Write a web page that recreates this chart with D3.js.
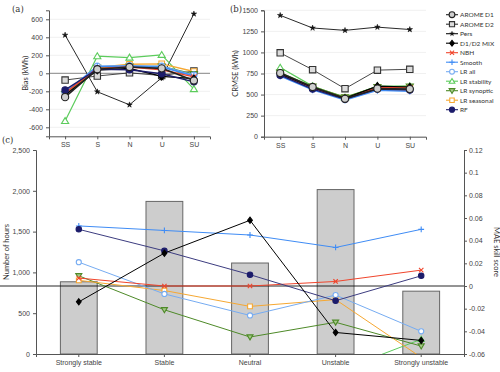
<!DOCTYPE html>
<html>
<head>
<meta charset="utf-8">
<script src="https://cdn.jsdelivr.net/npm/d3@7"></script>
<style>
  body { margin: 0; background: #fff; }
  svg { font-family: Lato, "Open Sans", sans-serif; }
  .axis text { fill: #444; font-size: 7px; }
  .axis path, .axis line { stroke: #555; }
</style>
</head>
<body>
<div id="chart"></div>
<script>
'use strict';

// Data: regimes for (a)/(b), stability classes for (c)
var regimes = ['SS', 'S', 'N', 'U', 'SU']
var stabilityClasses = ['Strongly stable', 'Stable', 'Neutral', 'Unstable', 'Strongly unstable']
var seriesNames = ['AROME D1', 'AROME D2', 'Pers', 'D1/D2 MIX', 'NBH', 'Smooth', 'LR all',
  'LR stability', 'LR synoptic', 'LR seasonal', 'RF']

// (a) bias, kWh
var biasD1 = [-265, 45, 70, 55, -80]
var biasD2 = [-75, -30, 5, -25, 25]
var biasPers = [425, -205, -350, -50, 660]
var biasMix = [-240, 35, 55, -35, -60]
var biasNbh = [-220, 55, 70, 40, -40]
var biasSmooth = [-210, 75, 80, 70, -30]
var biasLrAll = [-220, 80, 85, 80, -20]
var biasLrStab = [-530, 190, 175, 205, -175]
var biasLrSyn = [-230, 60, 75, 75, -10]
var biasLrSeas = [-225, 65, 100, 105, 20]
var biasRf = [-185, 45, 40, -5, -95]

// (b) CRMSE, kWh
var crmseD1 = [755, 590, 450, 570, 565]
var crmseD2 = [995, 795, 570, 790, 800]
var crmsePers = [1440, 1290, 1262, 1300, 1272]
var crmseMix = [745, 585, 455, 600, 590]
var crmseNbh = [740, 580, 450, 585, 580]
var crmseSmooth = [720, 555, 435, 550, 540]
var crmseLrAll = [735, 575, 445, 575, 570]
var crmseLrStab = [820, 600, 462, 600, 600]
var crmseLrSyn = [760, 595, 468, 590, 595]
var crmseLrSeas = [750, 590, 460, 585, 580]
var crmseRf = [730, 565, 445, 565, 555]

// (c) number of hours per class and MAE skill score
var hours = [885, 1870, 1115, 2015, 770]
var skillMix = [-0.014, 0.029, 0.058, -0.041, -0.048]
var skillNbh = [0.007, 0.000, 0.000, 0.004, 0.014]
var skillSmooth = [0.053, 0.049, 0.045, 0.034, 0.050]
var skillLrAll = [0.021, -0.007, -0.026, -0.008, -0.040]
var skillLrStab = [-0.12, -0.10, -0.09, -0.076, -0.047]
var skillLrSyn = [0.009, -0.021, -0.045, -0.032, -0.053]
var skillLrSeas = [0.005, -0.004, -0.018, -0.012, -0.063]
var skillRf = [0.050, 0.031, 0.010, -0.013, 0.009]

var biasTicks = [-600, -400, -200, 0, 200, 400, 600]
var crmseTicks = [0, 250, 500, 750, 1000, 1250, 1500]
var hoursTicks = [0, 500, 1000, 1500, 2000, 2500]
var skillTicks = [-0.06, -0.04, -0.02, 0, 0.02, 0.04, 0.06, 0.08, 0.1, 0.12]

var bias = {
  'AROME D1': biasD1, 'AROME D2': biasD2, 'Pers': biasPers, 'D1/D2 MIX': biasMix,
  'NBH': biasNbh, 'Smooth': biasSmooth, 'LR all': biasLrAll, 'LR stability': biasLrStab,
  'LR synoptic': biasLrSyn, 'LR seasonal': biasLrSeas, 'RF': biasRf
}
var crmse = {
  'AROME D1': crmseD1, 'AROME D2': crmseD2, 'Pers': crmsePers, 'D1/D2 MIX': crmseMix,
  'NBH': crmseNbh, 'Smooth': crmseSmooth, 'LR all': crmseLrAll, 'LR stability': crmseLrStab,
  'LR synoptic': crmseLrSyn, 'LR seasonal': crmseLrSeas, 'RF': crmseRf
}
var skill = {
  'D1/D2 MIX': skillMix, 'NBH': skillNbh, 'Smooth': skillSmooth, 'LR all': skillLrAll,
  'LR stability': skillLrStab, 'LR synoptic': skillLrSyn, 'LR seasonal': skillLrSeas, 'RF': skillRf
}

// Styles
var style = {
  'AROME D1':     {color: '#222', marker: 'circle', fill: '#cfcfcf', size: 3.6, width: 1.6},
  'AROME D2':     {color: '#333', marker: 'square', fill: '#dcdcdc', size: 3.2, width: 0.9},
  'Pers':         {color: '#111', marker: 'star', fill: '#111', size: 2.2, width: 0.9},
  'D1/D2 MIX':    {color: '#000', marker: 'diamond', fill: '#000', size: 2.8, width: 1.2},
  'NBH':          {color: '#f0452c', marker: 'x', fill: 'none', size: 2.6, width: 1.4},
  'Smooth':       {color: '#3f8cf5', marker: 'plus', fill: 'none', size: 3.4, width: 1.4},
  'LR all':       {color: '#76acf2', marker: 'circle', fill: '#fff', size: 3, width: 1.4},
  'LR stability': {color: '#5ccc5c', marker: 'triangle', fill: '#fff', size: 3.4, width: 1.2},
  'LR synoptic':  {color: '#4e8a28', marker: 'triangleDown', fill: '#a6c98a', size: 3.4, width: 1.4},
  'LR seasonal':  {color: '#f6a832', marker: 'square', fill: '#fff', size: 2.8, width: 1.4},
  'RF':           {color: '#1c1c6b', marker: 'circle', fill: '#1c1c6b', size: 3.2, width: 1.4}
}
var drawOrder = ['Pers', 'AROME D2', 'LR stability', 'LR seasonal', 'LR synoptic', 'LR all',
  'Smooth', 'NBH', 'D1/D2 MIX', 'RF', 'AROME D1']

function markerPath(type, s) {
  switch (type) {
    case 'square': return 'M' + (-s) + ',' + (-s) + 'h' + (2 * s) + 'v' + (2 * s) + 'h' + (-2 * s) + 'Z'
    case 'diamond': return 'M0,' + (-s * 1.3) + 'L' + s + ',0L0,' + (s * 1.3) + 'L' + (-s) + ',0Z'
    case 'triangle': return 'M0,' + (-s) + 'L' + (s * 1.05) + ',' + (s * 0.75) + 'L' + (-s * 1.05) + ',' + (s * 0.75) + 'Z'
    case 'triangleDown': return 'M0,' + s + 'L' + (s * 1.05) + ',' + (-s * 0.75) + 'L' + (-s * 1.05) + ',' + (-s * 0.75) + 'Z'
    case 'plus': return 'M' + (-s) + ',0H' + s + 'M0,' + (-s) + 'V' + s
    case 'x': return 'M' + (-s) + ',' + (-s) + 'L' + s + ',' + s + 'M' + s + ',' + (-s) + 'L' + (-s) + ',' + s
    case 'star': return d3.symbol(d3.symbolStar, s * s * 2)()
  }
  return null
}

function addMarkers(g, pts, st, scale) {
  var k = scale || 1
  pts.forEach(function(p) {
    if (st.marker === 'circle') {
      g.append('circle').attr('cx', p[0]).attr('cy', p[1]).attr('r', st.size * k)
        .attr('fill', st.fill).attr('stroke', st.color).attr('stroke-width', 1.1)
    } else {
      g.append('path').attr('transform', 'translate(' + p[0] + ',' + p[1] + ')')
        .attr('d', markerPath(st.marker, st.size * k))
        .attr('fill', st.fill).attr('stroke', st.color)
        .attr('stroke-width', st.marker === 'star' ? 0.5 : 1.1)
    }
  })
}

var W = 500, H = 372
var svg = d3.select('#chart').append('svg').attr('width', W).attr('height', H)

function panelLabel(x, y, t) {
  svg.append('text').attr('x', x).attr('y', y).attr('font-size', 8.5).attr('fill', '#333')
    .attr('font-family', 'DejaVu Serif, serif').text(t)
}

function linePanel(opts) {
  var x = d3.scalePoint().domain(regimes).range([opts.x0, opts.x1]).padding(0.5)
  var y = d3.scaleLinear().domain(opts.domain).range([opts.y1, opts.y0])
  var g = svg.append('g')

  // grid
  g.selectAll('.grid').data(opts.ticks).enter().append('line')
    .attr('x1', opts.x0).attr('x2', opts.x1)
    .attr('y1', function(d) { return y(d) }).attr('y2', function(d) { return y(d) })
    .attr('stroke', function(d) { return d === 0 && opts.zeroLine ? '#777' : '#ececec' })
    .attr('stroke-width', function(d) { return d === 0 && opts.zeroLine ? 0.9 : 0.8 })

  var yAxis = d3.axisLeft(y).tickValues(opts.ticks).tickSize(3).tickPadding(3)
    .tickFormat(function(d) { return String(d) })
  g.append('g').attr('class', 'axis').attr('transform', 'translate(' + opts.x0 + ',0)').call(yAxis)

  var xAxis = d3.axisBottom(x).tickSize(3).tickPadding(3)
  g.append('g').attr('class', 'axis').attr('transform', 'translate(0,' + opts.y1 + ')').call(xAxis)
  g.selectAll('.axis .domain').attr('stroke', '#777')

  g.append('text')
    .attr('transform', 'translate(' + opts.labelX + ',' + ((opts.y0 + opts.y1) / 2) + ') rotate(-90)')
    .attr('text-anchor', 'middle').attr('font-size', 7.5).attr('fill', '#333').text(opts.label)

  var line = d3.line().x(function(d, i) { return x(regimes[i]) }).y(function(d) { return y(d) })
  drawOrder.forEach(function(name) {
    var st = style[name]
    var vals = opts.data[name]
    g.append('path').datum(vals).attr('d', line).attr('fill', 'none')
      .attr('stroke', st.color).attr('stroke-width', st.width).attr('stroke-linejoin', 'round')
    addMarkers(g, vals.map(function(v, i) { return [x(regimes[i]), y(v)] }), st)
  })
}

// (a) Bias
linePanel({x0: 49, x1: 210, y0: 10.3, y1: 136.3, domain: [-700, 700], ticks: biasTicks,
  data: bias, label: 'Bias (kWh)', labelX: 28, zeroLine: true})
panelLabel(12, 12, '(a)')

// (b) CRMSE
linePanel({x0: 264, x1: 426, y0: 10.3, y1: 136.7, domain: [0, 1500], ticks: crmseTicks,
  data: crmse, label: 'CRMSE (kWh)', labelX: 238, zeroLine: false})
panelLabel(230, 12, '(b)')

// Legend
var lg = svg.append('g')
seriesNames.forEach(function(name, i) {
  var st = style[name]
  var yy = 14.7 + i * 9.5
  lg.append('line').attr('x1', 446).attr('x2', 458).attr('y1', yy).attr('y2', yy)
    .attr('stroke', st.color).attr('stroke-width', 1.1)
  addMarkers(lg, [[452, yy]], st, 0.8)
  lg.append('text').attr('x', 460).attr('y', yy + 2.3).attr('font-size', 6.5).attr('fill', '#333').text(name)
})

// (c) hours + MAE skill score
var cx0 = 36, cx1 = 464, cy0 = 150, cy1 = 354
var xb = d3.scaleBand().domain(stabilityClasses).range([cx0, cx1]).paddingInner(0.57).paddingOuter(0.285)
var yh = d3.scaleLinear().domain([0, 2500]).range([cy1, cy0])
var ys = d3.scaleLinear().domain([-0.06, 0.12]).range([cy1, cy0])
var gc = svg.append('g')

gc.selectAll('.bar').data(hours).enter().append('rect')
  .attr('x', function(d, i) { return xb(stabilityClasses[i]) })
  .attr('width', xb.bandwidth())
  .attr('y', function(d) { return yh(d) })
  .attr('height', function(d) { return cy1 - yh(d) })
  .attr('fill', '#cdcdcd').attr('stroke', '#666').attr('stroke-width', 1)

gc.append('line').attr('x1', 0).attr('x2', cx1).attr('y1', ys(0)).attr('y2', ys(0))
  .attr('stroke', '#111').attr('stroke-width', 0.9)

var hAxis = d3.axisLeft(yh).tickValues(hoursTicks).tickSize(3).tickPadding(3)
gc.append('g').attr('class', 'axis').attr('transform', 'translate(' + cx0 + ',0)').call(hAxis)
var sAxis = d3.axisRight(ys).tickValues(skillTicks).tickSize(3).tickPadding(2)
  .tickFormat(function(d) { return String(+d.toFixed(2)) })
gc.append('g').attr('class', 'axis').attr('transform', 'translate(' + cx1 + ',0)').call(sAxis)
var cAxis = d3.axisBottom(xb).tickSize(3).tickPadding(3)
gc.append('g').attr('class', 'axis').attr('transform', 'translate(0,' + cy1 + ')').call(cAxis)
gc.selectAll('.axis .domain').attr('stroke', '#555')

gc.append('text').attr('transform', 'translate(9,' + ((cy0 + cy1) / 2) + ') rotate(-90)')
  .attr('text-anchor', 'middle').attr('font-size', 7.5).attr('fill', '#333').text('Number of hours')
gc.append('text').attr('transform', 'translate(494,' + ((cy0 + cy1) / 2) + ') rotate(90)')
  .attr('text-anchor', 'middle').attr('font-size', 7.5).attr('fill', '#333').text('MAE skill score')
panelLabel(2, 143, '(c)')

svg.append('clipPath').attr('id', 'clipc').append('rect')
  .attr('x', cx0).attr('y', cy0).attr('width', cx1 - cx0).attr('height', cy1 - cy0)
var gl = gc.append('g').attr('clip-path', 'url(#clipc)')
var cOrder = ['LR stability', 'LR synoptic', 'LR seasonal', 'LR all', 'NBH', 'Smooth', 'RF', 'D1/D2 MIX']
var cline = d3.line()
  .x(function(d, i) { return xb(stabilityClasses[i]) + xb.bandwidth() / 2 })
  .y(function(d) { return ys(d) })
cOrder.forEach(function(name) {
  var st = style[name]
  var vals = skill[name]
  gl.append('path').datum(vals).attr('d', cline).attr('fill', 'none')
    .attr('stroke', name === 'RF' ? '#3c3c80' : st.color).attr('stroke-width', 1)
  addMarkers(gl, vals.map(function(v, i) {
    return [xb(stabilityClasses[i]) + xb.bandwidth() / 2, ys(v)]
  }), st, 0.85)
})
</script>
</body>
</html>
